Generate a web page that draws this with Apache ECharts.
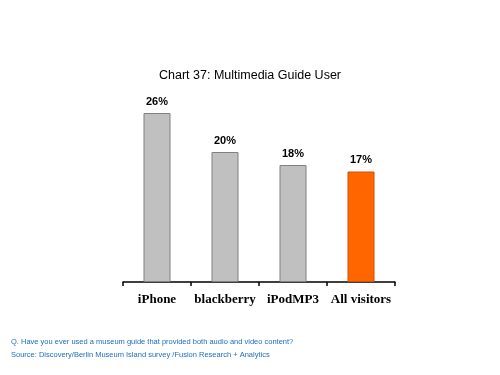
<!DOCTYPE html>
<html><head><meta charset="utf-8">
<script src="https://cdn.jsdelivr.net/npm/echarts@6/dist/echarts.min.js"></script>
<style>html,body{margin:0;padding:0;background:#fff}#c{width:500px;height:375px}</style>
</head><body><div id="c"></div>
<script>
const categories = ['iPhone', 'blackberry', 'iPodMP3', 'All visitors'];
const values = [26, 20, 18, 17];
const barColors = ['#c0c0c0', '#c0c0c0', '#c0c0c0', '#ff6600'];
const titleText = 'Chart 37: Multimedia Guide User';
const noteLines = ['Q. Have you ever used a museum guide that provided both audio and video content?',
  'Source: Discovery/Berlin Museum Island survey /Fusion Research + Analytics'];

const chart = echarts.init(document.getElementById('c'));
chart.setOption({
  animation: false,
  title: { text: titleText, left: 'center', top: 64,
    textStyle: { fontFamily: 'Liberation Sans, Arial', fontSize: 12.5, fontWeight: 'normal', color: '#000' } },
  grid: { left: 123, right: 105, top: 87, bottom: 93 },
  xAxis: { type: 'category', data: categories,
    axisLine: { lineStyle: { color: '#000', width: 1.5 } },
    axisTick: { show: true, interval: 0, inside: false, length: 4, lineStyle: { color: '#000', width: 1.5 } },
    axisLabel: { interval: 0, margin: 11, fontFamily: 'Liberation Serif, Times New Roman', fontSize: 13, fontWeight: 'bold', color: '#000' } },
  yAxis: { type: 'value', min: 0, max: 30, show: false, splitLine: { show: false } },
  graphic: noteLines.map((t, i) => ({ type: 'text', left: 11, top: 338 + i * 13,
    style: { text: t, fill: '#1a6fc0', font: '7.5px Liberation Sans, Arial' } })),
  series: [{ type: 'bar', barWidth: 27,
    data: values.map((v, i) => ({ value: v, itemStyle: { color: barColors[i], borderColor: i === 3 ? '#d05000' : '#808080', borderWidth: 1 } })),
    label: { show: true, position: 'top', distance: 6, formatter: '{c}%',
      fontFamily: 'Liberation Sans, Arial', fontSize: 11, fontWeight: 'bold', color: '#000' } }]
});
</script></body></html>
